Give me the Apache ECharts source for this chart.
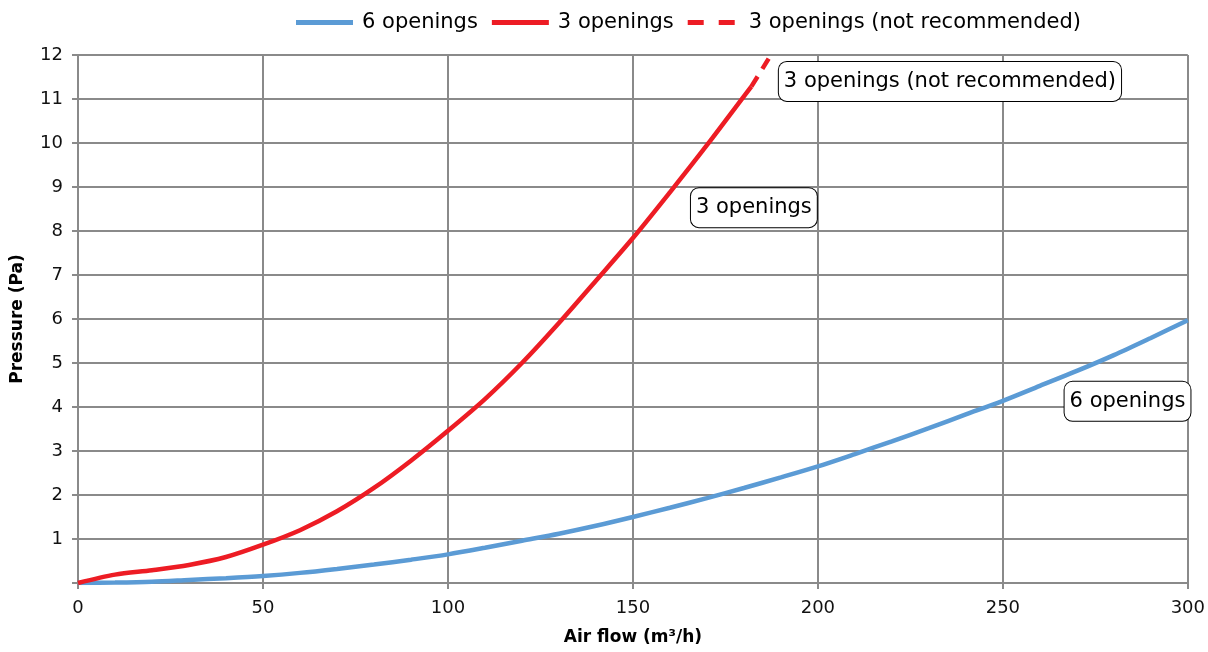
<!DOCTYPE html>
<html>
<head>
<meta charset="utf-8">
<script src="https://cdn.jsdelivr.net/npm/echarts@6/dist/echarts.min.js"></script>
<style>
html,body{margin:0;padding:0;background:#fff;}
#chart{width:1208px;height:652px;}
</style>
</head>
<body>
<div id="chart"></div>
<script>
// Data
const seriesNames = ['6 openings', '3 openings', '3 openings (not recommended)'];
const sixOpenings = [[0,0],[10,0.01],[20,0.03],[30,0.07],[40,0.11],[50,0.16],[60,0.23],[70,0.32],[80,0.42],[90,0.53],[100,0.65],[110,0.8],[120,0.96],[130,1.12],[140,1.3],[150,1.5],[160,1.71],[170,1.93],[180,2.16],[190,2.4],[200,2.65],[210,2.93],[220,3.22],[230,3.52],[240,3.83],[250,4.14],[260,4.48],[270,4.82],[280,5.18],[290,5.57],[300,5.97]];
const threeOpenings = [[0,0],[10,0.19],[20,0.29],[30,0.41],[40,0.59],[50,0.87],[60,1.2],[70,1.63],[80,2.16],[90,2.78],[100,3.46],[110,4.18],[120,5.0],[130,5.91],[140,6.87],[150,7.84],[160,8.88],[170,9.95],[180,11.06],[182,11.28]];
const threeNotRecommended = [[182,11.28],[187.3,12.0]];
const xTicks = [0, 50, 100, 150, 200, 250, 300];
const yTicks = [0,1,2,3,4,5,6,7,8,9,10,11,12];
// annotation anchors (data coords)
const annotNotRec = [235.7, 11.4];
const annotThree = [182.7, 8.53];
const annotSix = [283.7, 4.13];

const FONT = 'DejaVu Sans';
const GRIDC = '#8a8a8a';
const BLUE = '#5b9bd5';
const RED = '#ed1c24';
const labelBox = {
  show: true, position: 'inside', color: '#000', fontFamily: FONT, fontSize: 21,
  backgroundColor: '#fff', borderColor: '#000', borderWidth: 1, borderRadius: 8,
  padding: [9, 5, 9, 5], formatter: '{b}'
};
function mp(name, coord){
  return { name: name, coord: coord, symbol: 'rect', symbolSize: 0, label: labelBox };
}

const chart = echarts.init(document.getElementById('chart'), null, {renderer: 'canvas'});
chart.setOption({
  animation: false,
  backgroundColor: '#fff',
  grid: { left: 78, right: 18, top: 55, bottom: 69, containLabel: false },
  legend: {
    left: 291, top: 7, itemWidth: 57, itemHeight: 5, itemGap: 14,
    data: [
      { name: seriesNames[0], icon: 'path://M0,0h57v5h-57z', itemStyle: { color: BLUE } },
      { name: seriesNames[1], icon: 'path://M0,0h57v5h-57z', itemStyle: { color: RED } },
      { name: seriesNames[2], icon: 'path://M0,0h16v5h-16z M31,0h16v5h-16z', itemStyle: { color: RED } }
    ],
    textStyle: { fontFamily: FONT, fontSize: 21, color: '#000', padding: [0,0,0,4] }
  },
  xAxis: {
    type: 'value', min: xTicks[0], max: xTicks[xTicks.length-1], interval: 50,
    name: 'Air flow (m³/h)', nameLocation: 'middle', nameGap: 46,
    nameTextStyle: { fontFamily: FONT, fontSize: 17, fontWeight: 'bold', color: '#000' },
    axisLine: { show: true, lineStyle: { color: GRIDC, width: 2 } },
    axisTick: { show: true, inside: false, length: 6, lineStyle: { color: GRIDC, width: 2 } },
    axisLabel: { fontFamily: FONT, fontSize: 18, color: '#111', margin: 16 },
    splitLine: { show: true, lineStyle: { color: GRIDC, width: 2 } }
  },
  yAxis: {
    type: 'value', min: yTicks[0], max: yTicks[yTicks.length-1], interval: 1,
    name: 'Pressure (Pa)', nameLocation: 'middle', nameGap: 52, nameRotate: 90,
    nameTextStyle: { fontFamily: FONT, fontSize: 17, fontWeight: 'bold', color: '#000' },
    axisLine: { show: true, lineStyle: { color: GRIDC, width: 2 } },
    axisTick: { show: true, inside: false, length: 6, lineStyle: { color: GRIDC, width: 2 } },
    axisLabel: { fontFamily: FONT, fontSize: 18, color: '#111', margin: 15,
      formatter: v => v === 0 ? '' : String(v) },
    splitLine: { show: true, lineStyle: { color: GRIDC, width: 2 } }
  },
  series: [
    {
      name: seriesNames[0], type: 'line', data: sixOpenings, smooth: 0.3,
      showSymbol: false, symbol: 'none', z: 3,
      lineStyle: { color: BLUE, width: 4.5 }, itemStyle: { color: BLUE },
      markPoint: { data: [mp(seriesNames[0], annotSix)], z: 10 }
    },
    {
      name: seriesNames[1], type: 'line', data: threeOpenings, smooth: 0.3,
      showSymbol: false, symbol: 'none', z: 4,
      lineStyle: { color: RED, width: 4.5 }, itemStyle: { color: RED },
      markPoint: { data: [mp(seriesNames[1], annotThree)], z: 10 }
    },
    {
      name: seriesNames[2], type: 'line', data: threeNotRecommended,
      showSymbol: false, symbol: 'none', z: 4,
      lineStyle: { color: RED, width: 4.5, type: [12, 9] }, itemStyle: { color: RED },
      markPoint: { data: [mp(seriesNames[2], annotNotRec)], z: 10 }
    }
  ]
});
</script>
</body>
</html>
